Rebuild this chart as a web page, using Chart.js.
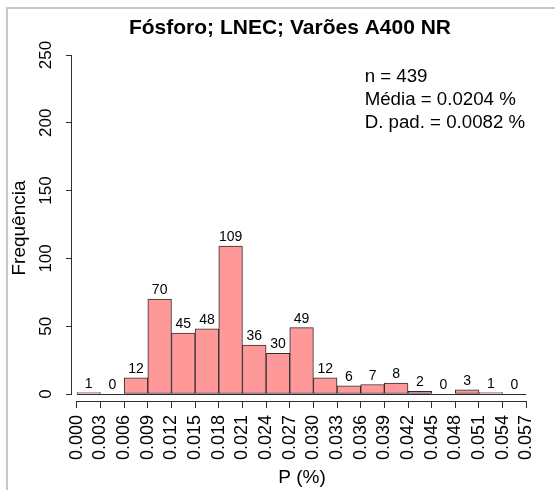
<!DOCTYPE html>
<html>
<head>
<meta charset="utf-8">
<script src="https://cdn.jsdelivr.net/npm/chart.js@4.4.1/dist/chart.umd.min.js"></script>
<style>
  html, body { margin: 0; padding: 0; background: #fff; }
  #wrap { position: relative; width: 555px; height: 490px; }
  #frame { position: absolute; left: 6px; top: 7px; right: 0; bottom: 0;
           border-top: 2px solid #c8c8c8; border-left: 2px solid #c8c8c8; pointer-events: none; }
  canvas { display: block; }
</style>
</head>
<body>
<div id="wrap">
  <canvas id="hist" width="555" height="490"></canvas>
  <div id="frame"></div>
</div>
<script>
// Histogram class edges (P, %)
const binEdges = [0.000, 0.003, 0.006, 0.009, 0.012, 0.015, 0.018, 0.021, 0.024, 0.027,
                  0.030, 0.033, 0.036, 0.039, 0.042, 0.045, 0.048, 0.051, 0.054, 0.057];
// Frequency per class
const counts = [1, 0, 12, 70, 45, 48, 109, 36, 30, 49, 12, 6, 7, 8, 2, 0, 3, 1, 0];
// Frequency axis ticks
const freqTicks = [0, 50, 100, 150, 200, 250];
// Summary statistics
const statsLines = ['n = 439', 'Média = 0.0204 %', 'D. pad. = 0.0082 %'];

const FONT = '"Liberation Sans", Arial, Helvetica, sans-serif';
const INK = '#000000';
const LINE = '#2e2e2e';

const barData = counts.map((c, i) => ({ x: (binEdges[i] + binEdges[i + 1]) / 2, y: c }));

// R-style axis lines, zero baseline, bar value labels and the stats block
const histDecor = {
  id: 'histDecor',
  beforeDatasetsDraw(chart) {
    const { ctx, scales: { x, y } } = chart;
    const yb = Math.round(y.getPixelForValue(0)) + 0.5;
    ctx.save();
    ctx.strokeStyle = LINE;
    ctx.lineWidth = 1;
    ctx.beginPath();
    ctx.moveTo(x.getPixelForValue(binEdges[0]), yb);
    ctx.lineTo(x.getPixelForValue(binEdges[binEdges.length - 1]), yb);
    ctx.stroke();
    ctx.restore();
  },
  afterDatasetsDraw(chart) {
    const { ctx, chartArea, scales: { x, y } } = chart;
    const meta = chart.getDatasetMeta(0);
    ctx.save();
    // axis lines spanning first to last tick
    ctx.strokeStyle = LINE;
    ctx.lineWidth = 1;
    ctx.beginPath();
    const ax = Math.round(chartArea.left) - 0.5;
    ctx.moveTo(ax, y.getPixelForValue(freqTicks[0]));
    ctx.lineTo(ax, y.getPixelForValue(freqTicks[freqTicks.length - 1]));
    const ay = Math.round(chartArea.bottom) + 0.5;
    ctx.moveTo(x.getPixelForValue(binEdges[0]), ay);
    ctx.lineTo(x.getPixelForValue(binEdges[binEdges.length - 1]), ay);
    ctx.stroke();

    // counts above bars
    ctx.fillStyle = INK;
    ctx.font = '14px ' + FONT;
    ctx.textAlign = 'center';
    ctx.textBaseline = 'alphabetic';
    meta.data.forEach((bar, i) => {
      ctx.fillText(String(counts[i]), bar.x, bar.y - 5);
    });

    // summary statistics
    ctx.font = '18.7px ' + FONT;
    ctx.textAlign = 'left';
    ctx.textBaseline = 'middle';
    const sx = x.getPixelForValue(0.0365);
    const sy = y.getPixelForValue(234);
    statsLines.forEach((t, i) => ctx.fillText(t, sx, sy + i * 23));
    ctx.restore();
  }
};

new Chart(document.getElementById('hist'), {
  type: 'bar',
  data: {
    datasets: [{
      data: barData,
      backgroundColor: '#ff9999',
      borderColor: LINE,
      borderWidth: 1,
      borderSkipped: false,
      barPercentage: 1,
      categoryPercentage: 1,
      grouped: false
    }]
  },
  options: {
    responsive: false,
    animation: false,
    events: [],
    layout: { padding: { left: 35, right: 10, top: 0, bottom: 0 } },
    plugins: {
      legend: { display: false },
      tooltip: { enabled: false },
      title: {
        display: true,
        text: 'Fósforo; LNEC; Varões A400 NR',
        color: INK,
        font: { family: FONT, size: 21, weight: 'bold', lineHeight: 1.2 },
        padding: { top: 15.5, bottom: 14.3 }
      }
    },
    scales: {
      x: {
        type: 'linear',
        offset: false,
        min: -0.000617,
        max: 0.05774,
        afterBuildTicks(s) { s.ticks = binEdges.map(v => ({ value: v })); },
        afterFit(s) { s.height = 89; },
        ticks: {
          autoSkip: false,
          minRotation: 90,
          maxRotation: 90,
          padding: 7,
          color: INK,
          font: { family: FONT, size: 18 },
          callback: v => Number(v).toFixed(3)
        },
        grid: { drawOnChartArea: false, drawTicks: true, tickLength: 7, color: LINE, offset: false },
        border: { display: false },
        title: {
          display: true,
          text: 'P (%)',
          color: INK,
          font: { family: FONT, size: 19, lineHeight: 1.2 },
          padding: { top: 0, bottom: 0.6 }
        }
      },
      y: {
        min: -5.16,
        max: 250,
        afterBuildTicks(s) { s.ticks = freqTicks.map(v => ({ value: v })); },
        afterFit(s) { s.width = 37; },
        ticks: {
          minRotation: 90,
          maxRotation: 90,
          crossAlign: 'center',
          padding: 6,
          color: INK,
          font: { family: FONT, size: 17 }
        },
        grid: { drawOnChartArea: false, drawTicks: true, tickLength: 6, color: LINE },
        border: { display: false },
        title: {
          display: true,
          text: 'Frequência',
          color: INK,
          font: { family: FONT, size: 19, lineHeight: 1.2 },
          padding: { top: -26.4, bottom: 0 }
        }
      }
    }
  },
  plugins: [histDecor]
});
</script>
</body>
</html>
